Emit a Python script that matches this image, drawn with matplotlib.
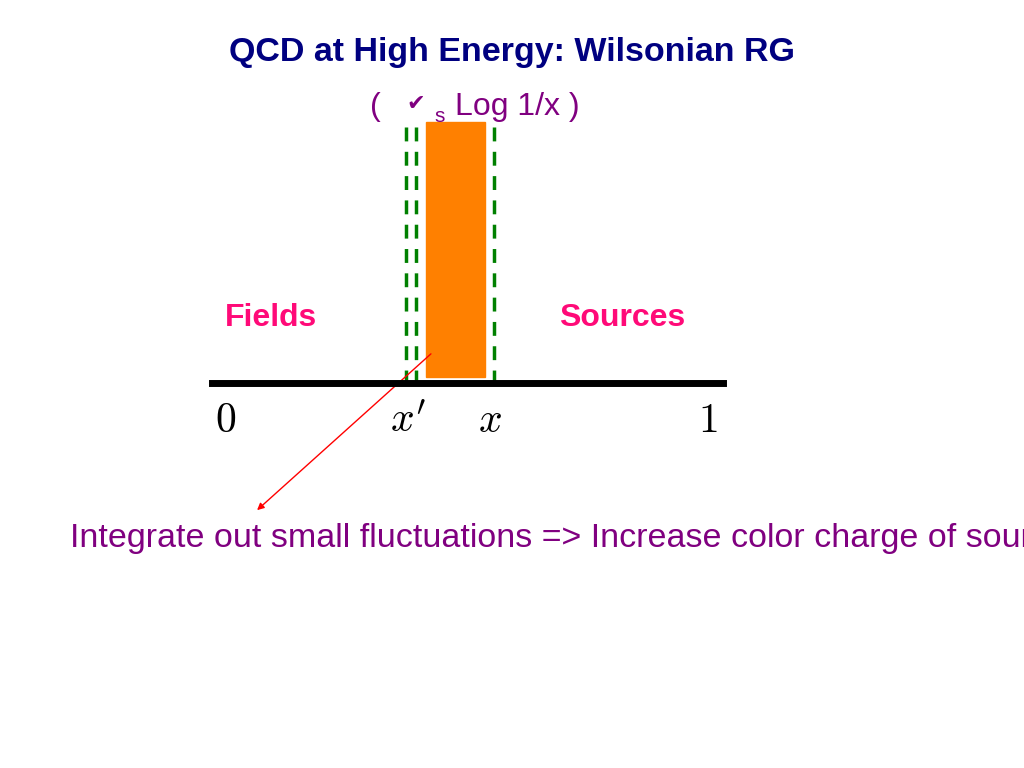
"""Wilsonian RG diagram: fields / sources split along the x axis."""
import matplotlib

matplotlib.use("Agg")
import matplotlib.pyplot as plt

# diagram content (pixel coordinates of a 1024x768 canvas)
axis_span = [212, 723]
axis_y = 383
bar_left, bar_right = 426, 485
bar_top, bar_bottom = 122, 377
dash_x = [406, 416, 494]
dash_top = 127
tick_labels = ["$0$", "$x'$", "$x$", "$1$"]
tick_x = [226, 408, 490, 708]
region_labels = ["Fields", "Sources"]
region_x = [271, 622]

NAVY = "#000080"
PURPLE = "#800080"
PINK = "#FF0A78"
SANS = "Liberation Sans"

plt.rcParams["mathtext.fontset"] = "cm"
fig = plt.figure(figsize=(10.24, 7.68), dpi=100)
ax = fig.add_axes([0, 0, 1, 1])
ax.set_xlim(0, 1024)
ax.set_ylim(768, 0)
ax.axis("off")

ax.text(512, 52, "QCD at High Energy: Wilsonian RG", ha="center", va="center",
        fontsize=24.5, fontweight="bold", color=NAVY, family=SANS)
ax.text(370, 107, "(", ha="left", va="center", fontsize=23, color=PURPLE, family=SANS)
ax.text(406, 104, "\u2714", ha="left", va="center", fontsize=16, color=PURPLE, family="DejaVu Sans")
ax.text(434, 117, "s", ha="left", va="center", fontsize=15, color=PURPLE, family=SANS)
ax.text(455, 107, "Log 1/x )", ha="left", va="center", fontsize=23, color=PURPLE, family=SANS)

ax.add_patch(plt.Rectangle((bar_left, bar_top), bar_right - bar_left,
                           bar_bottom - bar_top, color="#FF8000", zorder=2))
for x in dash_x:
    ax.plot([x, x], [dash_top, axis_y], ls=(0, (4, 3)), color="#008000", lw=2.5, zorder=3)
ax.plot(axis_span, [axis_y, axis_y], color="black", lw=5, zorder=4)

for lab, x in zip(tick_labels, tick_x):
    ax.text(x, 420, lab, ha="center", va="center", fontsize=30)
for lab, x in zip(region_labels, region_x):
    ax.text(x, 318, lab, ha="center", va="center", fontsize=23,
            fontweight="bold", color=PINK, family=SANS)

ax.annotate("", xy=(255, 512), xytext=(433, 352),
            arrowprops=dict(arrowstyle="-|>", color="red", lw=1, mutation_scale=10))

ax.text(70, 538, "Integrate out small fluctuations => Increase color charge of sources",
        ha="left", va="center", fontsize=24.5, color=PURPLE, family=SANS)

fig.savefig("out.png", dpi=100)
